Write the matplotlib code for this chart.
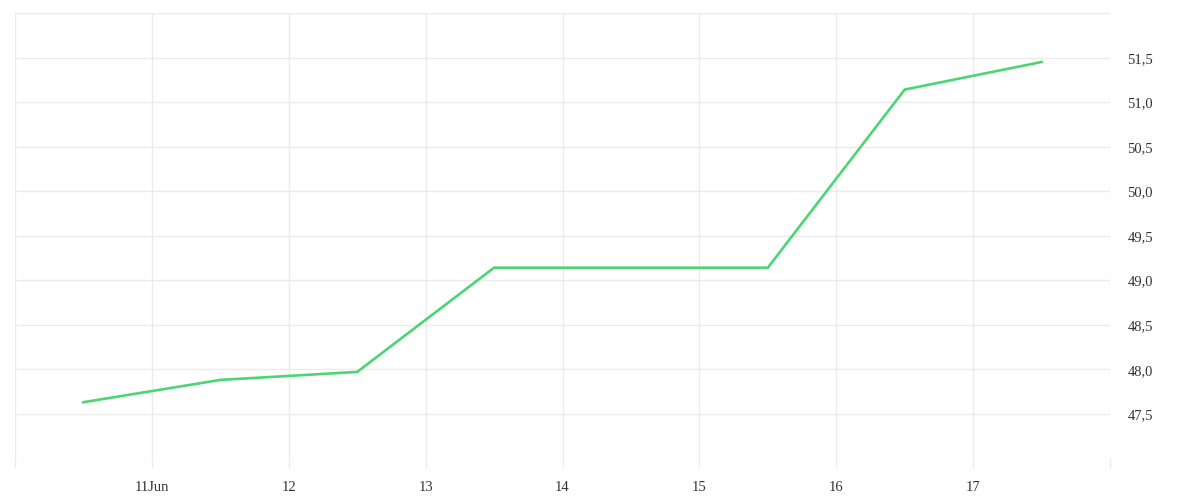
import matplotlib
matplotlib.use("Agg")
import matplotlib.pyplot as plt
import matplotlib.transforms as mtransforms
from matplotlib.ticker import FixedLocator, FuncFormatter

# Data (x in days of June; points at mid-day)
days = [10.5, 11.5, 12.5, 13.5, 14.5, 15.5, 16.5, 17.5]
values = [47.63, 47.88, 47.97, 49.14, 49.14, 49.14, 51.14, 51.45]
x_ticks = [10, 11, 12, 13, 14, 15, 16, 17, 18]
x_labels = ["", "11Jun", "12", "13", "14", "15", "16", "17", ""]
y_ticks = [47.0, 47.5, 48.0, 48.5, 49.0, 49.5, 50.0, 50.5, 51.0, 51.5, 52.0]
y_labeled = [47.5, 48.0, 48.5, 49.0, 49.5, 50.0, 50.5, 51.0, 51.5]

plt.rcParams['font.family'] = ['Liberation Serif', 'DejaVu Serif']

fig = plt.figure(figsize=(12, 5), dpi=100)
ax = fig.add_axes([15/1200, 1 - 458.3/500, (1110 - 15)/1200, (458.3 - 13)/500])

ax.plot(days, values, color="#4cd574", linewidth=1.9, solid_joinstyle="miter", zorder=3)

ax.set_xlim(10, 18)
ax.set_ylim(47, 52)
ax.xaxis.set_major_locator(FixedLocator(x_ticks))
ax.set_xticklabels(x_labels)
ax.yaxis.set_major_locator(FixedLocator(y_ticks))
ax.yaxis.set_major_formatter(FuncFormatter(
    lambda v, p: (f"{v:.1f}".replace(".", ",") if round(v, 2) in y_labeled else "")))
ax.yaxis.tick_right()

for s in ax.spines.values():
    s.set_visible(False)

grid_col = "#ebebeb"
ax.grid(True, color=grid_col, linewidth=1.0)
ax.tick_params(axis="x", direction="out", length=7.5, width=1.0, color=grid_col,
               labelsize=10.5, labelcolor="#333333", pad=9)
ax.tick_params(axis="y", length=0, labelsize=10.5, labelcolor="#333333", pad=12.5)

offset = mtransforms.ScaledTranslation(0, -2/100, fig.dpi_scale_trans)
for lbl in ax.get_yticklabels():
    lbl.set_verticalalignment("center")
    lbl.set_transform(lbl.get_transform() + offset)

fig.savefig("out.png", dpi=100, facecolor="white")
